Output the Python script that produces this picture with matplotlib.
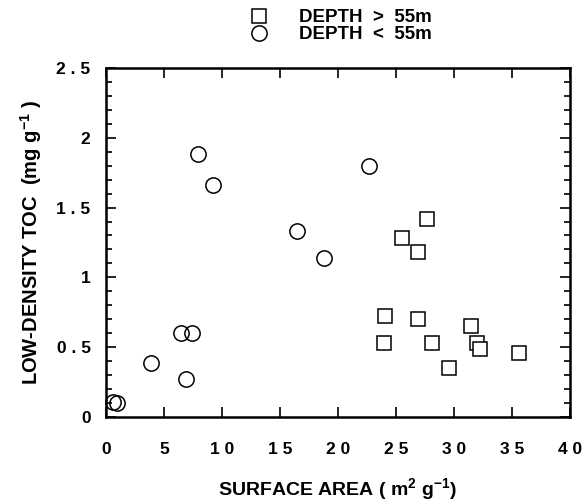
import matplotlib
matplotlib.use('Agg')
import matplotlib.pyplot as plt
from matplotlib.ticker import MultipleLocator, FuncFormatter

plt.rcParams['font.family'] = ['Liberation Sans', 'DejaVu Sans']
plt.rcParams['font.weight'] = 'bold'
plt.rcParams['axes.labelweight'] = 'bold'
plt.rcParams['mathtext.fontset'] = 'custom'
plt.rcParams['mathtext.rm'] = 'Liberation Sans:bold'
plt.rcParams['mathtext.it'] = 'Liberation Sans:bold'
plt.rcParams['mathtext.bf'] = 'Liberation Sans:bold'

# depth > 55 m (squares)
deep_area = [27.7, 25.5, 26.9, 24.05, 26.9, 31.5, 24.0, 28.1, 32.0, 32.3, 35.6, 29.6]
deep_toc = [1.42, 1.28, 1.18, 0.72, 0.70, 0.65, 0.53, 0.53, 0.53, 0.49, 0.46, 0.35]

# depth < 55 m (circles)
shallow_area = [7.96, 9.25, 22.7, 16.5, 18.8, 6.5, 7.45, 3.9, 6.95, 0.6, 0.95]
shallow_toc = [1.88, 1.66, 1.80, 1.33, 1.14, 0.60, 0.60, 0.39, 0.27, 0.105, 0.10]

fig = plt.figure(figsize=(5.88, 5.03), dpi=100)
ax = fig.add_axes([0.180, 0.171, 0.789, 0.694])

sq, = ax.plot(deep_area, deep_toc, 's', ms=10, mfc='white', mec='black', mew=1.1,
              clip_on=False, label='DEPTH  >  55m')
ci, = ax.plot(shallow_area, shallow_toc, 'o', ms=11, mfc='none', mec='black', mew=1.1,
              clip_on=False, label='DEPTH  <  55m')

ax.set_xlim(0, 40)
ax.set_ylim(0, 2.5)
ax.xaxis.set_major_locator(MultipleLocator(5))
ax.yaxis.set_major_locator(MultipleLocator(0.5))
ax.yaxis.set_minor_locator(MultipleLocator(0.1))


def spaced(v, pos):
    s = ('%g' % v)
    return ' '.join(s) if len(s) > 1 else s


ax.xaxis.set_major_formatter(FuncFormatter(spaced))
ax.yaxis.set_major_formatter(FuncFormatter(spaced))

ax.tick_params(which='both', direction='in', top=True, right=True, width=1.2,
               labelsize=12.5)
ax.tick_params(axis='x', pad=18)
ax.tick_params(axis='y', pad=11)
ax.tick_params(which='major', length=7)
ax.tick_params(which='minor', length=4)
for s in ax.spines.values():
    s.set_linewidth(1.8)

ax.set_xlabel(r'SURFACE AREA ( m$^{2}$ g$^{-1}$)', fontsize=14, labelpad=14)
ax.set_ylabel(r'LOW-DENSITY TOC  (mg g$^{-1}$ )', fontsize=14.5, labelpad=9)

fig.legend(handles=[sq, ci], loc='upper left', bbox_to_anchor=(0.412, 0.997),
           frameon=False, fontsize=13.5, handlelength=1.0, handletextpad=1.6,
           labelspacing=0.0, borderaxespad=0)

fig.savefig('out.png', dpi=100)
